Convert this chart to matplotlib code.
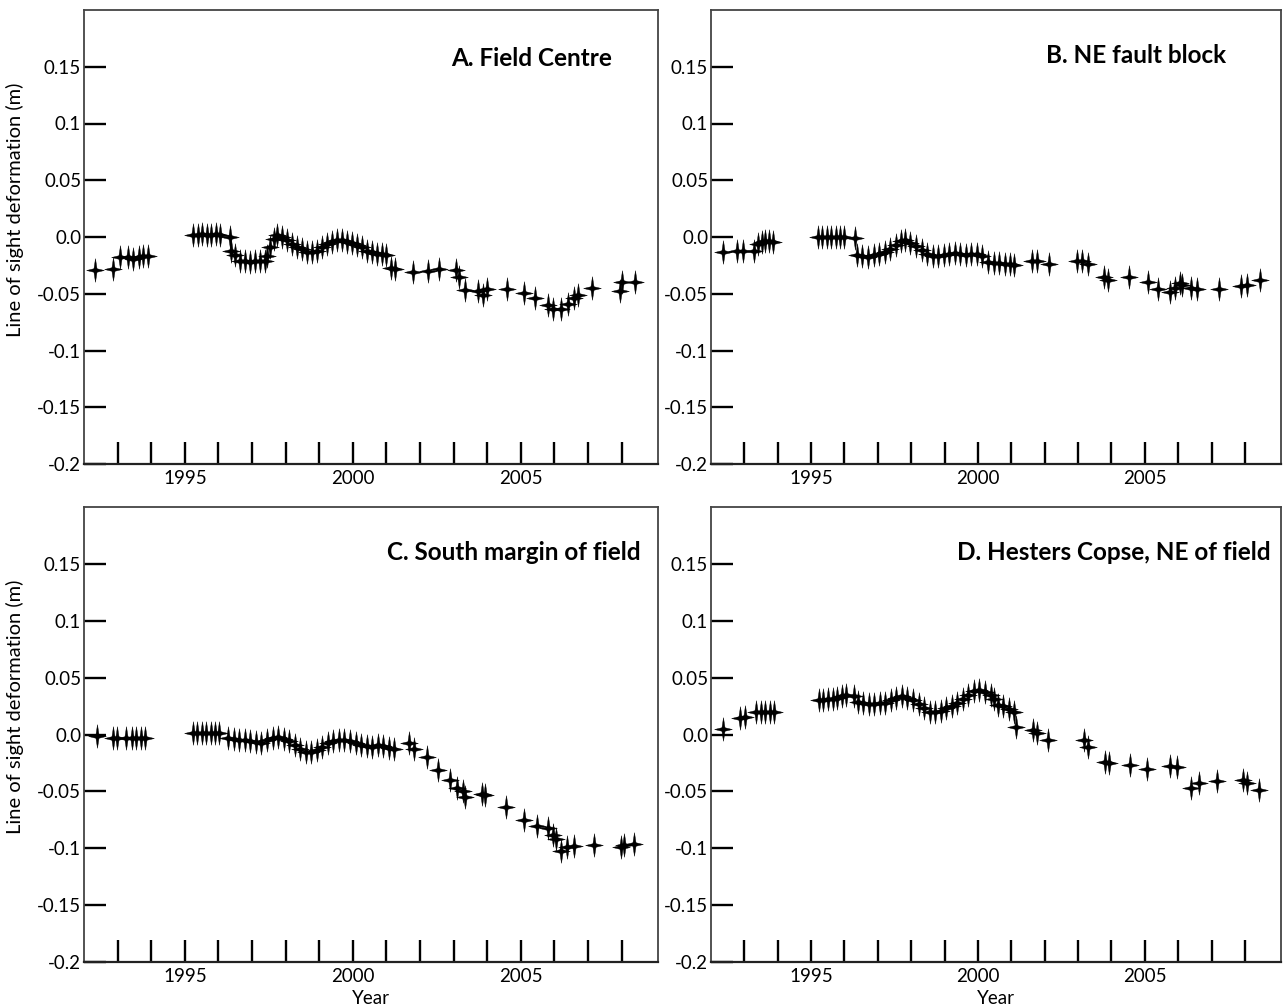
import matplotlib
matplotlib.use('Agg')
import matplotlib.pyplot as plt
from matplotlib.path import Path
from matplotlib.ticker import FixedLocator, FixedFormatter, NullFormatter

plt.rcParams['font.family'] = ['Lato', 'DejaVu Sans']

# A. Field Centre
years_a = [1992.34, 1992.87, 1993.07, 1993.31, 1993.47, 1993.64, 1993.77, 1993.90,
           1995.25, 1995.38, 1995.51, 1995.65, 1995.79, 1995.93, 1996.06,
           1996.35, 1996.37, 1996.50, 1996.64, 1996.79, 1996.94, 1997.09, 1997.24,
           1997.39, 1997.46, 1997.54, 1997.64, 1997.74, 1997.88, 1998.03, 1998.18,
           1998.33, 1998.48, 1998.63, 1998.78, 1998.93, 1999.07, 1999.22, 1999.37,
           1999.52, 1999.67, 1999.82, 1999.97, 2000.12, 2000.27, 2000.42, 2000.56,
           2000.71, 2000.86, 2001.00, 2001.13, 2001.26,
           2001.79, 2002.23, 2002.56, 2003.06, 2003.17, 2003.33, 2003.72, 2003.88,
           2003.99, 2004.60, 2005.10, 2005.42, 2005.81, 2005.97, 2006.20, 2006.41,
           2006.58, 2006.69, 2007.13, 2007.95, 2008.01, 2008.40]
defo_a = [-0.029, -0.028, -0.018, -0.018, -0.019, -0.018, -0.017, -0.017,
          0.002, 0.002, 0.003, 0.002, 0.002, 0.003, 0.002,
          0.000, -0.012, -0.016, -0.021, -0.021, -0.022, -0.021, -0.021,
          -0.021, -0.0165, -0.009, -0.002, 0.002, 0.000, -0.003, -0.006,
          -0.009, -0.011, -0.0135, -0.0135, -0.012, -0.009, -0.006, -0.004,
          -0.003, -0.003, -0.004, -0.005, -0.007, -0.009, -0.012, -0.0135,
          -0.015, -0.015, -0.016, -0.027, -0.028,
          -0.031, -0.030, -0.028, -0.029, -0.035, -0.047, -0.048, -0.051,
          -0.046, -0.046, -0.049, -0.054, -0.060, -0.063, -0.063, -0.059,
          -0.054, -0.051, -0.045, -0.048, -0.040, -0.040]

# B. NE fault block
years_b = [1992.35, 1992.79, 1992.97, 1993.30, 1993.41, 1993.52, 1993.63, 1993.74, 1993.85,
           1995.20, 1995.34, 1995.47, 1995.60, 1995.74, 1995.87, 1996.00,
           1996.31, 1996.37, 1996.53, 1996.70, 1996.87, 1997.03, 1997.20,
           1997.36, 1997.53, 1997.70, 1997.81, 1997.97, 1998.14, 1998.31, 1998.47,
           1998.64, 1998.80, 1998.97, 1999.14, 1999.30, 1999.47, 1999.63, 1999.80,
           1999.97, 2000.13, 2000.30, 2000.47, 2000.63, 2000.80, 2000.96, 2001.07,
           2001.63, 2001.76, 2002.13, 2002.96, 2003.12, 2003.29, 2003.79, 2003.90,
           2004.53, 2005.08, 2005.39, 2005.75, 2005.89, 2006.04, 2006.11, 2006.39,
           2006.56, 2007.22, 2007.88, 2008.05, 2008.44]
defo_b = [-0.013, -0.012, -0.012, -0.012, -0.006, -0.0044, -0.0035, -0.0035, -0.0044,
          0.000, 0.000, 0.000, 0.000, 0.000, 0.000, 0.000,
          -0.0006, -0.016, -0.017, -0.0176, -0.016, -0.0147, -0.0132,
          -0.011, -0.0074, -0.0035, -0.003, -0.0053, -0.0082, -0.0118, -0.0153,
          -0.017, -0.017, -0.016, -0.0153, -0.014, -0.0153, -0.016, -0.0147,
          -0.0147, -0.017, -0.022, -0.023, -0.023, -0.0235, -0.0235, -0.025,
          -0.021, -0.021, -0.0235, -0.021, -0.021, -0.0235, -0.035, -0.038,
          -0.035, -0.040, -0.0456, -0.0485, -0.0447, -0.0406, -0.0426, -0.0447,
          -0.046, -0.0456, -0.0435, -0.0426, -0.0376]

# C. South margin of field
years_c = [1992.38, 1992.87, 1992.98, 1993.26, 1993.42, 1993.55, 1993.69, 1993.82,
           1995.24, 1995.37, 1995.50, 1995.63, 1995.77, 1995.90, 1996.03,
           1996.28, 1996.45, 1996.62, 1996.78, 1996.95, 1997.11, 1997.28, 1997.44,
           1997.61, 1997.77, 1997.94, 1998.10, 1998.27, 1998.43, 1998.60, 1998.76,
           1998.93, 1999.09, 1999.26, 1999.42, 1999.59, 1999.75, 1999.92, 2000.08,
           2000.25, 2000.41, 2000.58, 2000.74, 2000.91, 2001.07, 2001.22,
           2001.68, 2001.82, 2002.21, 2002.54, 2002.89, 2003.11, 2003.28, 2003.33,
           2003.83, 2003.94, 2004.56, 2005.09, 2005.48, 2005.81, 2005.95, 2006.03,
           2006.20, 2006.36, 2006.58, 2007.18, 2007.98, 2008.07, 2008.38]
defo_c = [-0.001, -0.003, -0.003, -0.003, -0.003, -0.003, -0.003, -0.003,
          0.0015, 0.0015, 0.0015, 0.0015, 0.0015, 0.0015, 0.0015,
          -0.003, -0.004, -0.0045, -0.005, -0.006, -0.007, -0.0074, -0.005,
          -0.003, -0.002, -0.004, -0.006, -0.009, -0.013, -0.015, -0.015,
          -0.014, -0.011, -0.0074, -0.006, -0.005, -0.005, -0.006, -0.0074,
          -0.009, -0.010, -0.011, -0.009, -0.010, -0.012, -0.013,
          -0.0074, -0.013, -0.020, -0.031, -0.040, -0.047, -0.050, -0.055,
          -0.052, -0.053, -0.064, -0.075, -0.080, -0.082, -0.088, -0.092,
          -0.102, -0.099, -0.098, -0.097, -0.099, -0.097, -0.096]

# D. Hesters Copse, NE of field
years_d = [1992.35, 1992.88, 1993.03, 1993.34, 1993.49, 1993.62, 1993.77, 1993.90,
           1995.23, 1995.36, 1995.50, 1995.65, 1995.78, 1995.92, 1996.06,
           1996.28, 1996.39, 1996.56, 1996.72, 1996.89, 1997.05, 1997.22, 1997.39,
           1997.55, 1997.72, 1997.88, 1998.05, 1998.22, 1998.38, 1998.55, 1998.72,
           1998.88, 1999.05, 1999.21, 1999.38, 1999.55, 1999.71, 1999.88, 2000.04,
           2000.21, 2000.38, 2000.49, 2000.60, 2000.76, 2000.93, 2001.07, 2001.15,
           2001.65, 2001.76, 2002.09, 2003.18, 2003.31, 2003.81, 2003.92, 2004.55,
           2005.06, 2005.75, 2005.97, 2006.39, 2006.61, 2007.17, 2007.94, 2008.05,
           2008.41]
defo_d = [0.0047, 0.0145, 0.0154, 0.0195, 0.020, 0.020, 0.020, 0.0198,
          0.030, 0.030, 0.031, 0.031, 0.032, 0.034, 0.035,
          0.034, 0.029, 0.028, 0.027, 0.027, 0.028, 0.028, 0.030,
          0.032, 0.034, 0.032, 0.030, 0.027, 0.023, 0.020, 0.020,
          0.021, 0.023, 0.025, 0.028, 0.031, 0.035, 0.038, 0.039,
          0.037, 0.035, 0.031, 0.026, 0.025, 0.022, 0.020, 0.007,
          0.004, 0.001, -0.005, -0.005, -0.011, -0.024, -0.025, -0.027,
          -0.030, -0.028, -0.029, -0.047, -0.043, -0.041, -0.040, -0.043,
          -0.049]

titles = ['A. Field Centre', 'B. NE fault block',
          'C. South margin of field', 'D. Hesters Copse, NE of field']
ytick_vals = [-0.2, -0.15, -0.1, -0.05, 0.0, 0.05, 0.1, 0.15]
ytick_labels = ['-0.2', '-0.15', '-0.1', '-0.05', '0.0', '0.05', '0.1', '0.15']
year_labels = [1995, 2000, 2005]
year_ticks = list(range(1993, 2009))

# four pointed star marker, taller than wide
star = Path([(0, 1), (0.13, 0.15), (0.75, 0), (0.13, -0.15), (0, -1),
             (-0.13, -0.15), (-0.75, 0), (-0.13, 0.15), (0, 1)],
            [Path.MOVETO] + [Path.LINETO] * 7 + [Path.CLOSEPOLY])

W, H = 1284, 1008
fig = plt.figure(figsize=(W / 100, H / 100), dpi=100)
# panel boxes in pixels: left, top, right, bottom
boxes = [(84, 10, 658, 464), (711, 10, 1281, 464),
         (84, 507, 658, 962), (711, 507, 1281, 962)]
title_pos = [(0.92, 0.893), (0.904, 0.9), (0.97, 0.9), (0.982, 0.9)]
data = [(years_a, defo_a), (years_b, defo_b), (years_c, defo_c), (years_d, defo_d)]

for i, (l, t, r, b) in enumerate(boxes):
    ax = fig.add_axes([l / W, 1 - b / H, (r - l) / W, (b - t) / H])
    x, y = data[i]
    ax.plot(x, y, linestyle='none', marker=star, markersize=17,
            color='black', markeredgewidth=0.3)
    ax.set_xlim(1992, 2009.08)
    ax.set_ylim(-0.2, 0.2)

    ax.yaxis.set_major_locator(FixedLocator(ytick_vals))
    ax.yaxis.set_major_formatter(FixedFormatter(ytick_labels))
    ax.tick_params(axis='y', direction='in', length=16, width=1.7,
                   labelsize=13.5, pad=2, color='black')
    ax.xaxis.set_major_locator(FixedLocator(year_labels))
    ax.xaxis.set_minor_locator(FixedLocator([yy for yy in year_ticks if yy not in year_labels]))
    ax.xaxis.set_minor_formatter(NullFormatter())
    ax.tick_params(axis='x', which='both', direction='in', length=16, width=1.7,
                   labelsize=13.5, pad=4, color='black')
    for s in ax.spines.values():
        s.set_color('#444444')
        s.set_linewidth(1.3)
    ax.spines['bottom'].set_color('#222222')
    ax.spines['bottom'].set_linewidth(1.6)

    ax.text(title_pos[i][0], title_pos[i][1], titles[i], transform=ax.transAxes,
            ha='right', va='center', fontsize=17.5, fontweight='bold')

    if i % 2 == 0:
        ax.set_ylabel('Line of sight deformation (m)', fontsize=14.5)
        ax.yaxis.set_label_coords(-0.105, 0.56)
    if i >= 2:
        ax.set_xlabel('Year', fontsize=13.5, labelpad=4)

fig.savefig('out.png', dpi=100, facecolor='white')
